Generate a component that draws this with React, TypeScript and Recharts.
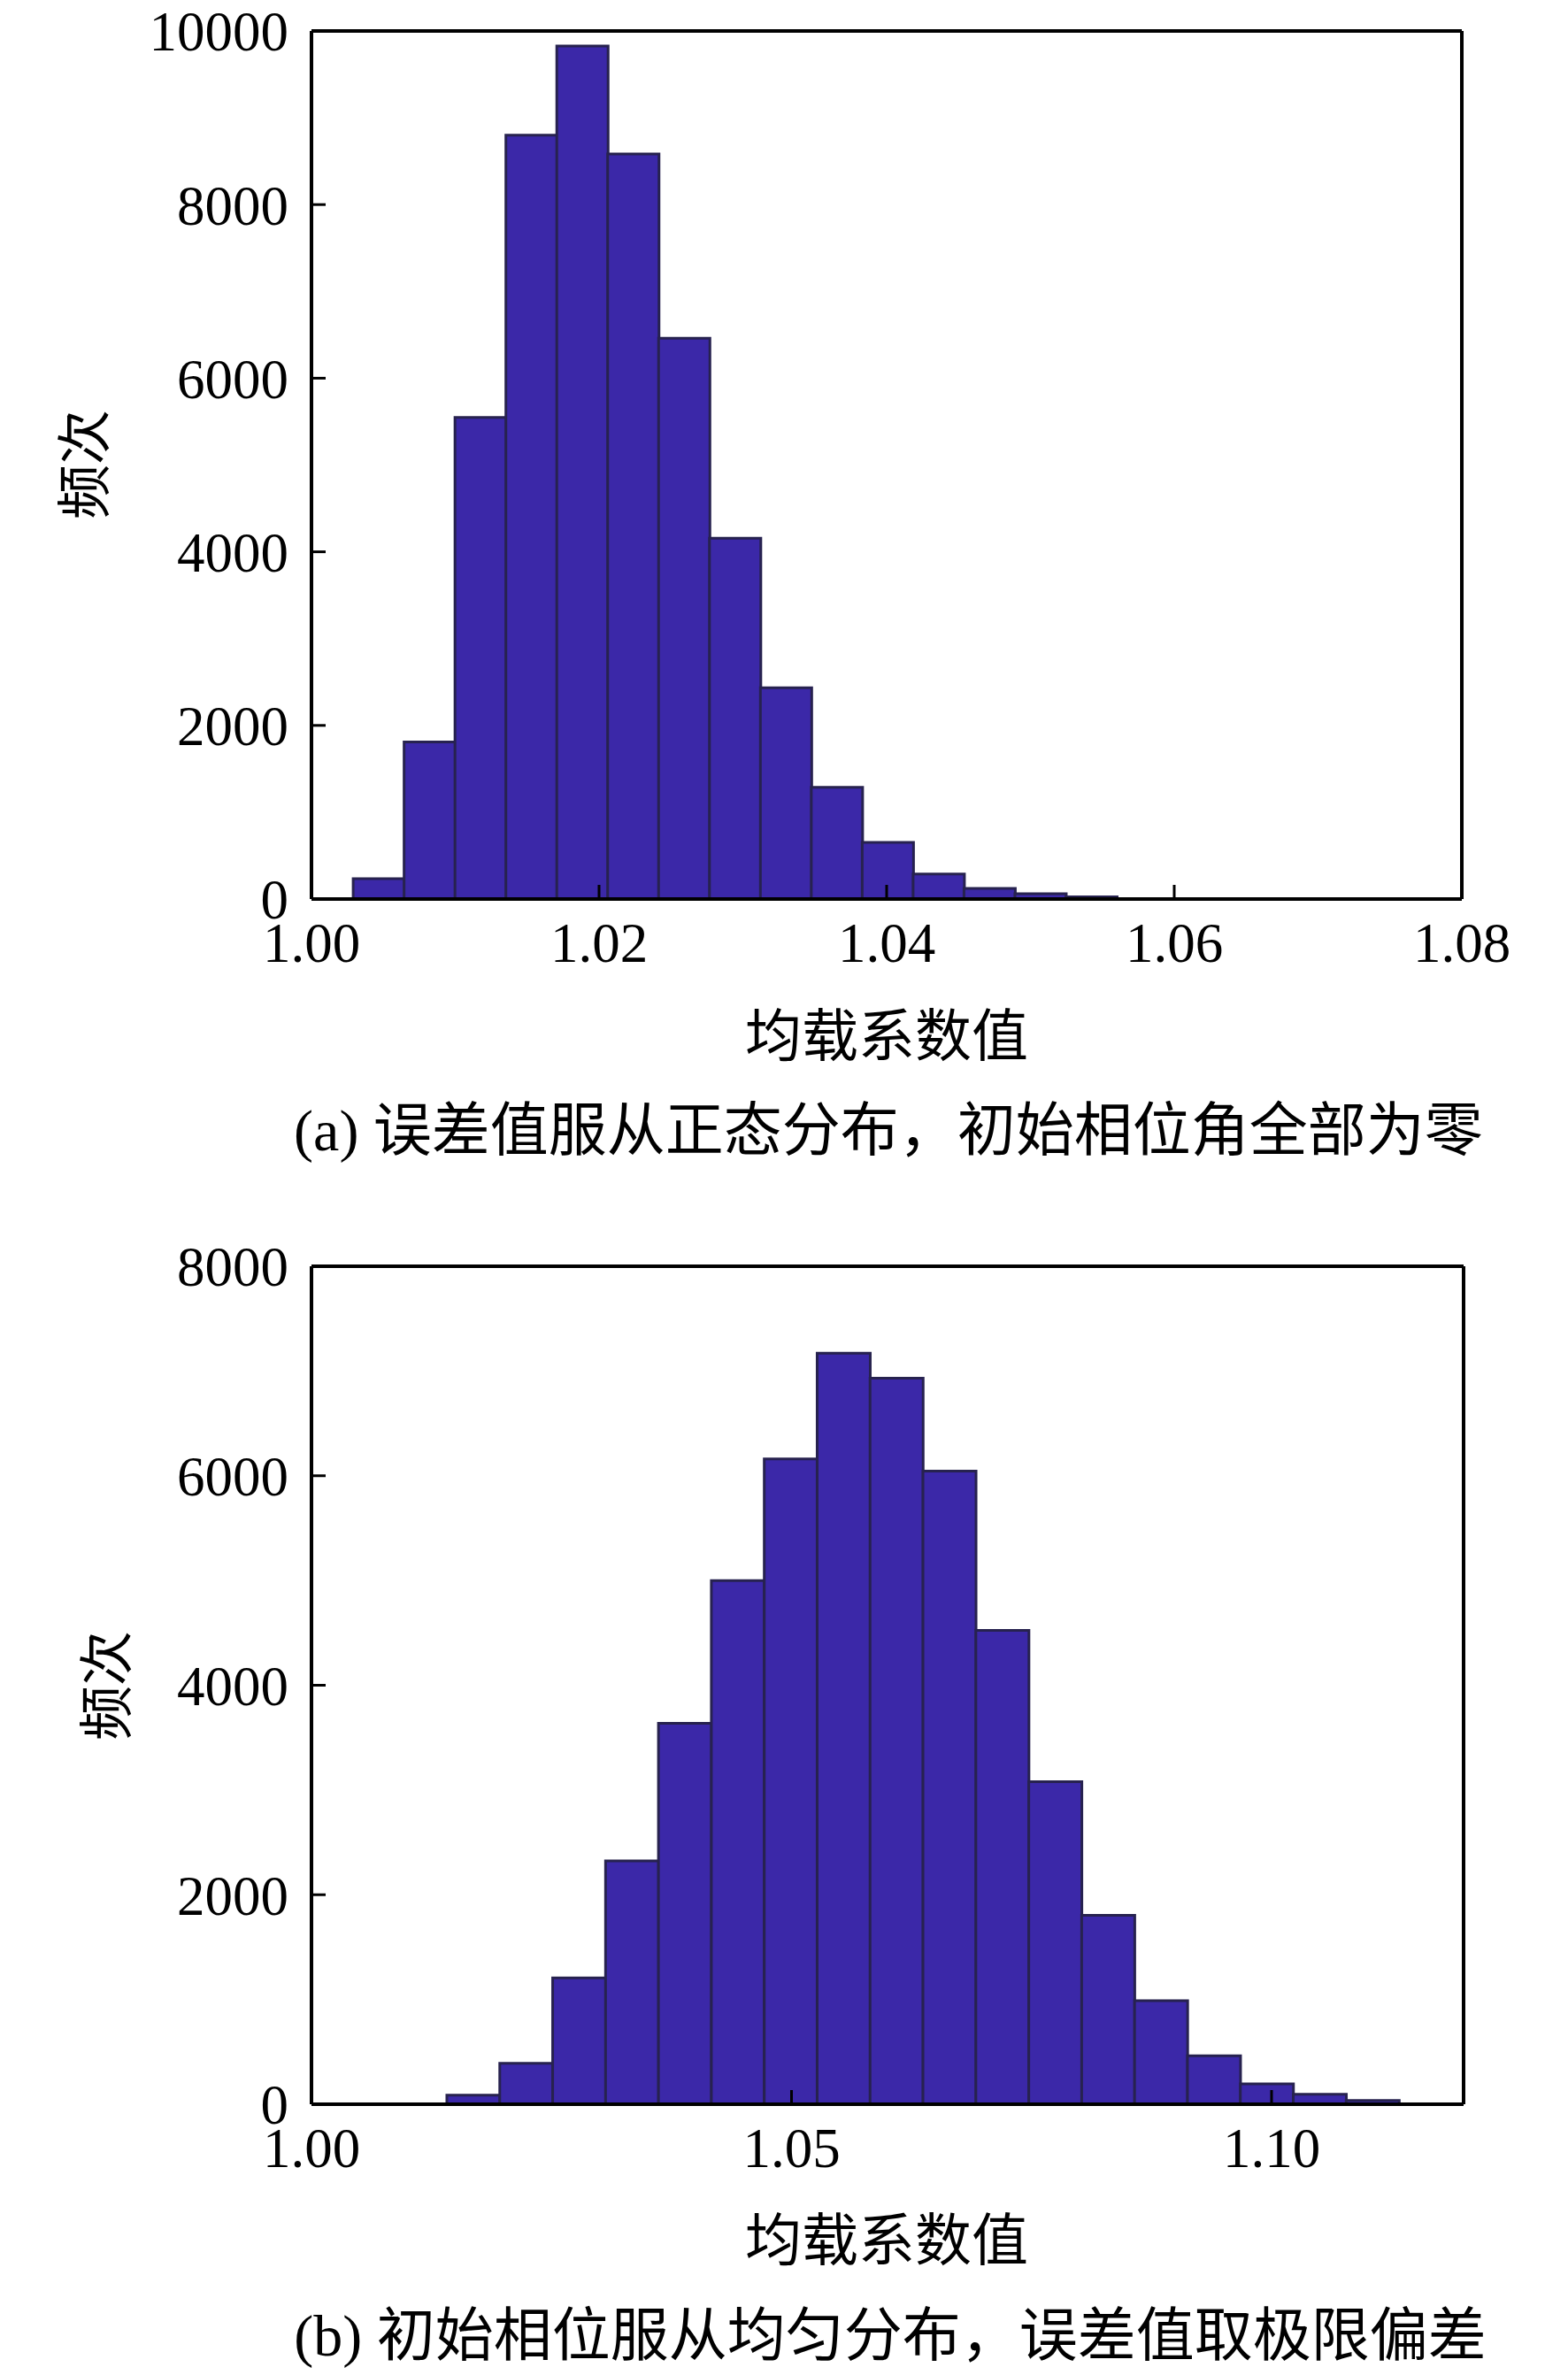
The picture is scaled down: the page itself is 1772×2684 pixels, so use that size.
import React from "react";
import { BarChart, Bar, XAxis, YAxis } from "recharts";

// Chart (a): bin centres and counts
const binsA = [1.00467, 1.00821, 1.01175, 1.01529, 1.01883, 1.02237, 1.02591, 1.02945, 1.03299, 1.03653, 1.04007, 1.04361, 1.04715, 1.05069, 1.05423];
const countsA = [235, 1809, 5548, 8800, 9826, 8583, 6461, 4157, 2435, 1287, 652, 287, 122, 61, 26];
const xTicksA = [1.0, 1.02, 1.04, 1.06, 1.08];
const yTicksA = [0, 2000, 4000, 6000, 8000, 10000];

// Chart (b): bin centres and counts
const binsB = [1.016855, 1.022365, 1.027875, 1.033385, 1.038895, 1.044405, 1.049915, 1.055425, 1.060935, 1.066445, 1.071955, 1.077465, 1.082975, 1.088485, 1.093995, 1.099505, 1.105015, 1.110525];
const countsB = [87, 390, 1205, 2323, 3636, 4999, 6160, 7170, 6932, 6045, 4523, 3080, 1803, 988, 462, 195, 94, 36];
const xTicksB = [1.0, 1.05, 1.1];
const yTicksB = [0, 2000, 4000, 6000, 8000];

const xTitle = "均载系数值";
const yTitle = "频次";
const captionA = "(a) 误差值服从正态分布，初始相位角全部为零";
const captionB = "(b) 初始相位服从均匀分布，误差值取极限偏差";

const FONT = "'Liberation Serif', 'Times New Roman', 'Noto Sans CJK SC', serif";
const BAR_FILL = "#3b28a8";
const BAR_STROKE = "#27224f";

type HistProps = {
  bins: number[];
  counts: number[];
  xTicks: number[];
  yTicks: number[];
  xDomain: [number, number];
  yMax: number;
  plot: { top: number; right: number; bottom: number; left: number };
  height: number;
};

const AX = 60; // axis box size for the labelled axes
const BX = 2; // axis box size for the frame axes

function Hist({ bins, counts, xTicks, yTicks, xDomain, yMax, plot, height }: HistProps) {
  const data = bins.map((b, i) => ({ x: b, count: counts[i] }));
  const tickStyle = { fontSize: 63, fill: "#000", fontFamily: FONT };
  const margin = {
    top: plot.top - BX,
    right: plot.right - BX,
    bottom: plot.bottom - AX,
    left: plot.left - AX,
  };
  return (
    <BarChart width={1772} height={height} data={data} margin={margin} barCategoryGap={0} barGap={0} style={{ overflow: "visible" }}>
      <XAxis
        dataKey="x"
        type="number"
        domain={xDomain}
        allowDataOverflow
        ticks={xTicks}
        tickFormatter={(v: number) => v.toFixed(2)}
        interval={0}
        height={AX}
        tick={tickStyle}
        tickSize={-16}
        tickMargin={42}
        axisLine={{ stroke: "#000", strokeWidth: 4 }}
        tickLine={{ stroke: "#000", strokeWidth: 3 }}
      />
      <XAxis
        xAxisId="top"
        orientation="top"
        type="number"
        domain={xDomain}
        allowDataOverflow
        height={BX}
        tick={false}
        tickLine={false}
        axisLine={{ stroke: "#000", strokeWidth: 4 }}
      />
      <YAxis
        type="number"
        domain={[0, yMax]}
        allowDataOverflow
        ticks={yTicks}
        interval={0}
        width={AX}
        tick={tickStyle}
        tickSize={-16}
        tickMargin={42}
        axisLine={{ stroke: "#000", strokeWidth: 4 }}
        tickLine={{ stroke: "#000", strokeWidth: 3 }}
      />
      <YAxis
        yAxisId="right"
        orientation="right"
        type="number"
        domain={[0, yMax]}
        allowDataOverflow
        width={BX}
        tick={false}
        tickLine={false}
        axisLine={{ stroke: "#000", strokeWidth: 4 }}
      />
      <Bar dataKey="count" fill={BAR_FILL} stroke={BAR_STROKE} strokeWidth={3} isAnimationActive={false} />
    </BarChart>
  );
}

const textBase: React.CSSProperties = {
  position: "absolute",
  fontFamily: FONT,
  color: "#000",
  whiteSpace: "nowrap",
  lineHeight: 1,
  textAlign: "center",
};

function CenterText({ text, cx, cy, size, rotate }: { text: string; cx: number; cy: number; size: number; rotate?: boolean }) {
  const w = 1600;
  return (
    <div
      style={{
        ...textBase,
        fontSize: size,
        width: w,
        height: size,
        left: cx - w / 2,
        top: cy - size / 2,
        transform: rotate ? "rotate(-90deg)" : undefined,
        transformOrigin: "center center",
      }}
    >
      {text}
    </div>
  );
}

export default function App() {
  return (
    <div style={{ position: "absolute", left: 0, top: 0, width: 1772, height: 2684, background: "#fff", overflow: "hidden" }}>
      <div style={{ position: "absolute", left: 0, top: 0 }}>
        <Hist
          bins={binsA}
          counts={countsA}
          xTicks={xTicksA}
          yTicks={yTicksA}
          xDomain={[1.0, 1.08]}
          yMax={10000}
          plot={{ top: 35, left: 352, right: 120, bottom: 84 }}
          height={1100}
        />
      </div>
      <div style={{ position: "absolute", left: 0, top: 1340 }}>
        <Hist
          bins={binsB}
          counts={countsB}
          xTicks={xTicksB}
          yTicks={yTicksB}
          xDomain={[1.0, 1.12]}
          yMax={8000}
          plot={{ top: 91, left: 352, right: 118, bottom: 122 }}
          height={1160}
        />
      </div>
      <CenterText text={yTitle} cx={97} cy={525} size={62} rotate />
      <CenterText text={xTitle} cx={1002} cy={1172} size={64} />
      <CenterText text={captionA} cx={1004} cy={1278} size={66} />
      <CenterText text={yTitle} cx={122} cy={1905} size={62} rotate />
      <CenterText text={xTitle} cx={1002} cy={2533} size={64} />
      <CenterText text={captionB} cx={1006} cy={2640} size={66} />
    </div>
  );
}
